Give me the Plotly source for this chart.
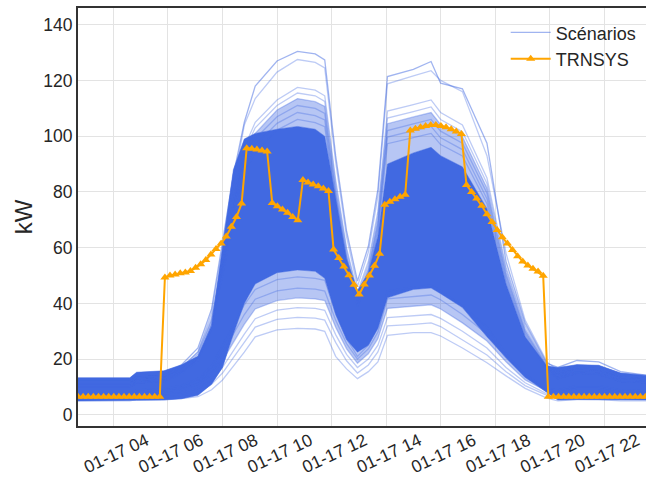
import pandas as pd
import plotly.graph_objects as go

DAY = "2021-01-17"

# ---- Scenario family, read at key times (hh:mm) ----
key_times = ["02:42", "04:36", "04:51", "05:51", "06:30", "07:06", "07:36", "08:00",
             "08:24", "08:48", "09:12", "10:00", "10:45", "11:24", "11:45", "12:09",
             "12:33", "12:57", "13:21", "13:42", "14:03", "15:00", "15:39", "16:00",
             "16:48", "17:42", "18:24", "19:06", "19:54", "20:18", "21:00", "21:48",
             "22:36", "23:42"]

# dense core of the scenario bundle (lower / upper edge)
dense_low = [5.0, 5.0, 5.2, 5.3, 5.8, 7.0, 11.0, 17.0, 29.0, 40.0, 47.0, 51.0, 52.0, 51.5,
             49.0, 36.0, 27.0, 22.5, 25.0, 31.0, 42.0, 45.0, 45.5, 43.5, 38.5, 28.0, 20.5,
             13.5, 8.0, 5.3, 5.5, 5.5, 5.3, 5.3]
dense_high = [13.3, 13.3, 15.3, 15.8, 18.0, 21.0, 32.0, 60.0, 88.0, 99.0, 101.0, 102.5, 103.5,
              102.5, 100.0, 78.0, 56.0, 44.5, 51.0, 64.0, 90.0, 94.0, 96.0, 93.0, 89.0, 74.0,
              47.0, 28.0, 17.5, 17.0, 18.0, 17.8, 15.0, 14.0]

# individual scenarios visible outside the dense core
scen_u1 = [12, 12, 13.5, 14, 18, 24, 38, 62, 86, 105, 118, 127, 130.4, 129.5, 127.4, 93, 66, 48,
           60.5, 81, 121.4, 124, 126.8, 119, 117, 97.5, 55, 33, 18.5, 17, 19.5, 19, 15.5, 14]
scen_u2 = [11, 11, 12.5, 13, 16.8, 22.6, 36.6, 60, 83, 104, 113.5, 123, 127.5, 126.5, 124.5, 90.8,
           64, 46, 58.4, 78.5, 118.8, 121.6, 123.5, 120, 116, 93, 58, 34, 19, 16, 18, 17.5, 15, 14]
scen_u3 = [12, 12, 13.5, 14, 17.3, 22.6, 35, 56, 77, 96, 105, 113, 117.5, 116.5, 114.5, 84.4, 60,
           44, 55, 73, 109, 111.3, 113, 108.5, 104, 85, 53, 32, 18, 15, 17, 16.5, 14, 13.5]
scen_u4 = [11, 11, 12.5, 13, 16.2, 21.5, 34, 55, 76, 94.6, 103, 111, 115.5, 114.5, 112.5, 82.9, 59,
           43, 53.8, 71.4, 106.5, 108.8, 110.5, 106, 101.6, 83, 52, 31, 17.7, 14, 16, 15.5, 13, 12.5]
scen_u5 = [10, 10, 11.5, 12, 15.2, 20.4, 32.8, 53.5, 74, 92.8, 101, 109.4, 113.5, 112.4, 110.7,
           81.3, 57.7, 42, 52.6, 69.9, 104.5, 106.9, 108.5, 104.2, 99.8, 81.4, 51, 30.4, 17.4, 13,
           15, 14.5, 12, 11.5]
scen_u6 = [12, 12, 13.5, 14, 17, 21.9, 33.8, 53.6, 73.4, 91.2, 99.1, 107, 111, 110, 108.2, 79.5,
           56.4, 41, 51.4, 68.3, 102, 104.4, 106, 101.8, 97.5, 79.5, 49.8, 29.7, 17, 15, 17, 16.5,
           14, 13.5]
scen_u7 = [11, 11, 12.5, 13, 15.9, 20.8, 32.5, 52, 71.5, 89, 96.8, 104.6, 108.5, 107.4, 105.8,
           77.7, 55, 40, 50.2, 66.7, 99.7, 102, 103.5, 99.4, 95.2, 77.6, 48.6, 29, 16.6, 14, 16,
           15.5, 13, 12.5]
scen_u8 = [10, 10, 11.5, 12, 14.8, 19.6, 31.1, 50.3, 69.5, 86.8, 94.5, 102.2, 106, 104.9, 103.4,
           75.9, 53.7, 39, 48.9, 65, 97.3, 99.5, 101, 97, 92.9, 75.8, 47.5, 28.3, 16.2, 13, 15,
           14.5, 12, 11.5]
scen_l1 = [5, 5, 5.5, 5.5, 5.8, 6.5, 9, 12.5, 17.5, 22.5, 28, 30.5, 31, 30.8, 30, 21, 16.5, 13,
           15.5, 19, 28.5, 29.5, 29.5, 28.3, 24, 18.7, 14, 9.5, 6, 5, 5.5, 5.5, 5, 5]
scen_l2 = [5.5, 5.5, 6.5, 6.5, 7, 8, 11, 15, 20.5, 26, 31.5, 34.3, 35, 34.7, 34, 26, 19.4, 15,
           17.9, 22.6, 31.9, 32.5, 33, 31.7, 27, 21.5, 15.5, 10.5, 7, 6, 7, 7, 6, 6]
scen_l3 = [6, 6, 7, 7.5, 8, 9.5, 12.5, 17, 23, 29, 34.5, 37.6, 38.5, 38.2, 37.5, 28.8, 21.7, 17,
           20, 25, 34.9, 35.5, 36, 34.6, 30, 24, 17, 11.5, 7.5, 7, 8, 8, 7, 6.5]
scen_l4 = [7, 7, 8, 8.5, 9, 11, 14.5, 19.5, 26, 32.5, 38, 41, 42, 41.6, 41, 31.4, 23.7, 18.5,
           21.9, 27.3, 38.2, 39, 39.5, 38, 33, 26.5, 19, 12.5, 8.5, 8, 9.5, 9.5, 8, 7.5]
scen_l5 = [7.5, 7.5, 8.5, 9, 9.8, 12, 16, 22, 29, 36, 41.5, 44.5, 45.5, 45.1, 44.4, 34, 25.6, 20,
           23.7, 29.7, 41.6, 42.4, 43, 41.3, 36, 29, 20.5, 13.5, 9, 8.5, 10, 10, 8.5, 8]
scen_l6 = [8, 8, 9, 9.5, 10.5, 13, 17.5, 24.5, 32, 39.5, 45, 48.5, 49.5, 49, 48.3, 36.7, 27.3, 21,
           25, 31.6, 44.5, 45.8, 46.5, 44.6, 39, 31.5, 22, 14.5, 9.5, 9, 10.5, 10.5, 9, 8.5]

# ---- TRNSYS reference profile (one value every 11.25 min from 02:42) ----
trnsys_start = "02:42"
trnsys_step = "675s"
trnsys_kw = [6.5] * 17 + [
    49.3, 50.0, 50.4, 50.8, 51.1, 51.6, 52.8, 54.0, 55.6, 57.5, 59.5, 61.5, 64.0, 67.5, 71.0, 75.8,
    95.7, 95.5, 95.2, 94.9, 94.5, 76.0, 74.9, 73.7, 72.5, 71.0, 69.8, 84.3, 83.4, 82.7, 82.0, 81.2,
    80.3, 59.3, 56.3, 53.2, 50.1, 46.7, 43.2, 46.8, 50.0, 53.5, 57.8, 75.4, 76.5, 77.4, 78.3, 79.0,
    102.0, 102.7, 103.2, 103.7, 104.0, 104.0, 103.7, 103.2, 102.5, 101.7, 100.8, 82.5, 80.0, 77.6,
    75.0, 72.0, 69.2, 66.3, 63.7, 61.5, 59.2, 56.9, 55.0, 53.6, 52.4, 51.4, 49.9] + [6.5] * 21

x_range = ["02:42", "23:32"]
tick_hours = ["04:00", "06:00", "08:00", "10:00", "12:00", "14:00", "16:00", "18:00", "20:00", "22:00"]
y_ticks = [0, 20, 40, 60, 80, 100, 120, 140]

# ---- build ----
kx = pd.to_datetime([f"{DAY} {t}" for t in key_times])
tx = pd.date_range(f"{DAY} {trnsys_start}", periods=len(trnsys_kw), freq=trnsys_step)

BLUE = "rgb(65,105,225)"
FRINGE = "rgba(65,105,225,0.38)"
FAINT = "rgba(65,105,225,0.35)"
LEGEND_BLUE = "rgba(65,105,225,0.5)"
ORANGE = "#FFA500"

fig = go.Figure()
# lower fringe (semi-dense) between scen_l4 and dense_low
fig.add_trace(go.Scatter(x=kx, y=scen_l4, mode="lines", line=dict(width=0, color=FAINT),
                         showlegend=False, hoverinfo="skip"))
fig.add_trace(go.Scatter(x=kx, y=dense_low, mode="lines", line=dict(width=0.5, color=BLUE),
                         fill="tonexty", fillcolor=FRINGE, showlegend=False, hoverinfo="skip"))
# dense core
fig.add_trace(go.Scatter(x=kx, y=dense_high, mode="lines", line=dict(width=0.5, color=BLUE),
                         fill="tonexty", fillcolor=BLUE, showlegend=False, hoverinfo="skip"))
# upper fringe between dense_high and scen_u5
fig.add_trace(go.Scatter(x=kx, y=scen_u5, mode="lines", line=dict(width=0, color=FAINT),
                         fill="tonexty", fillcolor=FRINGE, showlegend=False, hoverinfo="skip"))

scenarios = [scen_u1, scen_u2, scen_u3, scen_u4, scen_u5, scen_u6, scen_u7, scen_u8,
             scen_l1, scen_l2, scen_l3, scen_l4, scen_l5, scen_l6]
for i, s in enumerate(scenarios):
    fig.add_trace(go.Scatter(x=kx, y=s, mode="lines",
                             line=dict(width=1.3, color=LEGEND_BLUE if i == 0 else FAINT),
                             name="Scénarios", legendgroup="sc", showlegend=(i == 0)))

fig.add_trace(go.Scatter(x=tx, y=trnsys_kw, mode="lines+markers", name="TRNSYS",
                         legendgroup="tr",
                         line=dict(color=ORANGE, width=2),
                         marker=dict(symbol="triangle-up", size=8, color=ORANGE)))

fig.update_layout(
    width=646, height=477,
    margin=dict(l=78, r=0, t=8, b=51),
    plot_bgcolor="white", paper_bgcolor="white",
    font=dict(family="Liberation Sans, Arial, sans-serif", color="#262626"),
    legend=dict(x=0.753, y=0.985, xanchor="left", yanchor="top",
                bgcolor="rgba(255,255,255,0)", font=dict(size=18),
                itemwidth=40, tracegroupgap=3, traceorder="normal"),
)
fig.update_xaxes(
    type="date",
    range=[f"{DAY} {x_range[0]}", f"{DAY} {x_range[1]}"],
    tickvals=[f"{DAY} {h}" for h in tick_hours],
    tickformat="%m-%d %H",
    tickangle=-25, ticklabelshift=33, ticklabelstandoff=-4,
    tickfont=dict(size=17.5),
    showgrid=True, gridcolor="#e3e3e3", gridwidth=1,
    showline=True, linecolor="#333333", linewidth=2, mirror=True,
    zeroline=False, ticks="",
)
fig.update_yaxes(
    range=[-4, 146],
    tickvals=y_ticks,
    tickfont=dict(size=17.5),
    showgrid=True, gridcolor="#e3e3e3", gridwidth=1,
    showline=True, linecolor="#333333", linewidth=2, mirror=False,
    zeroline=False, ticks="",
    title=dict(text="kW", font=dict(size=24), standoff=4),
)

fig.write_html("out.html", config={"displayModeBar": False},
               post_script="document.body.style.margin='0px';document.body.style.overflow='hidden';")
